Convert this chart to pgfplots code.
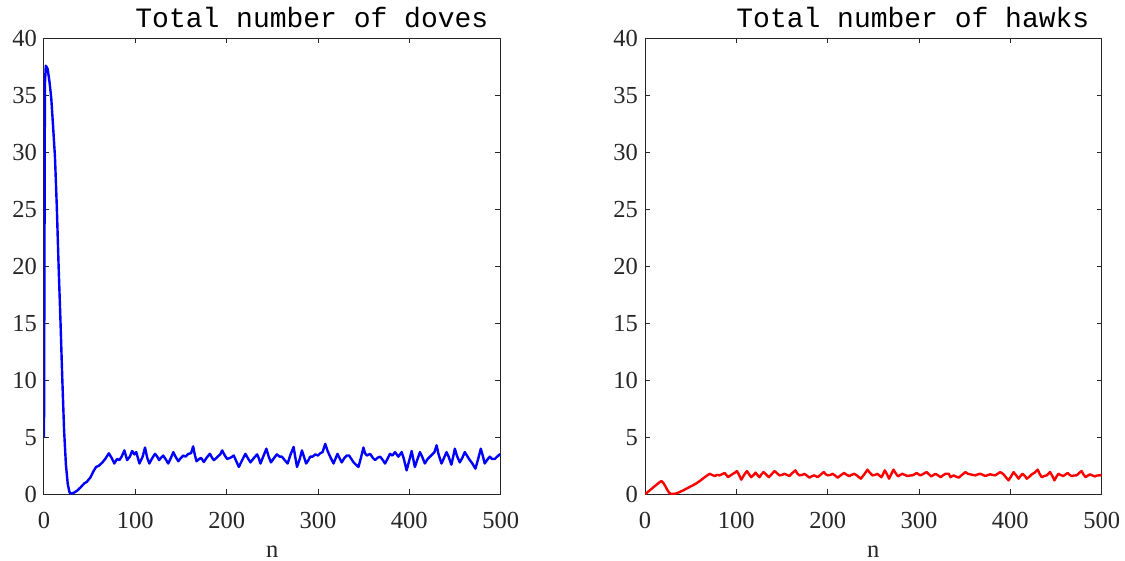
\documentclass[border=0pt]{standalone}
\usepackage{pgfplots}
\pgfplotsset{compat=1.18}
\usepackage{fontspec}
\setmainfont{Liberation Serif}
\newfontfamily\titlefont{Liberation Mono}
\definecolor{axgray}{RGB}{38,38,38}
\pgfplotsset{
  mlab/.style={
    width=228.35pt, height=228pt, scale only axis,
    xmin=0, xmax=500, ymin=0, ymax=40,
    xtick={0,100,200,300,400,500},
    ytick={0,5,10,15,20,25,30,35,40},
    tick align=inside, major tick length=2.6pt,
    axis line style={axgray, line width=0.5pt},
    every tick/.style={axgray, line width=0.5pt},
    /pgf/number format/assume math mode=true,
    tick label style={font=\fontsize{12.25}{14}\selectfont, text=axgray},
    xticklabel style={anchor=base, yshift=-17pt},
    xlabel={n},
    xlabel style={font=\fontsize{12.25}{14}\selectfont, text=axgray, at={(axis description cs:0.5,0)}, anchor=base, yshift=-31.5pt},
    every axis title shift=0pt,
    title style={font=\titlefont\fontsize{14}{16}\selectfont, at={(axis description cs:1,1)}, anchor=base east, inner sep=0pt, xshift=-6pt, yshift=5.5pt},
    clip=true,
  }
}
\begin{document}
\begin{tikzpicture}
\begin{axis}[mlab, at={(0pt,0pt)}, anchor=south west, title={Total number of doves}]
\addplot[blue, line width=1.2pt, line join=round] coordinates {
(0,5)(1,36)(2,37.6)(4,37.3)(6,36.2)(8,34.7)(10,32.2)(12,29.6)(14,25.3)(16,20)(18,15.3)(20,10.2)(22,5.6)(24,2.6)(26,0.9)(28,0.15)(30,0.05)(33,0.15)(36,0.3)(40,0.6)(44,0.95)(47,1.1)(51,1.5)(54,2.0)(57,2.4)(60,2.5)(64,2.8)(67,3.1)(71,3.6)(74,3.2)(77,2.7)(80,3.1)(82.5,3.0)(85,3.3)(88,3.85)(91,3.0)(94,3.3)(96.5,3.8)(99,3.5)(101,3.7)(104.5,2.7)(108,3.3)(110.6,4.1)(113,3.2)(115.3,2.7)(118,3.1)(121.5,3.55)(124,3.3)(126,3.0)(128,3.2)(130.5,3.4)(133,3.1)(136,2.7)(139,3.2)(141.6,3.7)(144,3.3)(147,2.9)(150,3.2)(152.5,3.4)(155,3.3)(158,3.55)(161,3.6)(163.3,4.2)(165,3.5)(167,2.9)(170,3.1)(172,3.2)(175,2.83)(178,3.2)(181.6,3.56)(184,3.2)(186,3.0)(189,3.2)(191.4,3.4)(193,3.5)(195,3.85)(198,3.4)(200.5,3.1)(204,3.2)(207.8,3.4)(210.5,2.9)(213.3,2.4)(217,3.0)(220.5,3.55)(223,3.2)(226,2.8)(230,3.2)(233.3,3.5)(235,3.2)(237,2.7)(240,3.3)(243.5,4.0)(246,3.3)(248.5,2.8)(252,3.2)(255,3.5)(258,3.3)(260.5,3.3)(263.5,3.0)(266.7,2.7)(270,3.5)(273.3,4.15)(275,3.3)(277,2.4)(280,3.1)(282.4,3.85)(285,3.2)(287,2.7)(289.5,3.0)(291.5,3.3)(294,3.3)(297,3.5)(300,3.4)(302.4,3.6)(305,3.7)(307.9,4.43)(310.5,3.8)(313.3,3.3)(317,2.7)(319,3.1)(321.3,3.55)(324,3.1)(326,2.8)(329,3.2)(331.5,3.4)(334,3.4)(336.5,3.1)(339,2.8)(341.5,2.6)(344.3,2.4)(347,3.2)(349.7,4.1)(351.5,3.6)(353.4,3.4)(357,3.55)(360,3.2)(362.5,3.0)(365,3.2)(368,3.3)(371,3.0)(373.4,2.7)(376,3.1)(378.8,3.55)(381.5,3.4)(384.3,3.7)(388,3.3)(391.6,3.7)(394,3.1)(397,2.1)(400,3.0)(402.5,3.8)(404,3.2)(406,2.4)(409,3.1)(411.6,3.7)(414,3.3)(417,2.7)(420,3.1)(422.5,3.3)(425,3.5)(427.5,3.7)(429.8,4.3)(432,3.5)(435.2,2.7)(438,3.2)(440.7,3.7)(443,3.3)(446,2.6)(448,3.3)(449.8,4.0)(452,3.4)(455.2,2.8)(458,3.2)(460.7,3.7)(463,3.4)(466.2,3.0)(469,2.7)(472.3,2.25)(475,3.0)(478.2,4.0)(480,3.5)(482.5,2.7)(485,3.0)(488,3.3)(490.5,3.1)(493.5,3.1)(496,3.3)(499,3.5)(500,3.4)
};
\end{axis}
\begin{axis}[mlab, at={(300.5pt,0pt)}, anchor=south west, title={Total number of hawks}]
\addplot[red, line width=1.2pt, line join=round] coordinates {
(0,0)(3,0.2)(6,0.4)(9,0.6)(12,0.8)(15,1.0)(18,1.17)(20,1.0)(22,0.75)(24,0.45)(26,0.18)(28,0.05)(31,0.03)(34,0.07)(38,0.2)(42,0.35)(45.5,0.5)(49,0.65)(52.7,0.8)(56,0.95)(60,1.17)(63,1.35)(65.4,1.5)(68,1.65)(71,1.8)(73.5,1.7)(76.3,1.6)(79,1.7)(81.8,1.66)(84,1.75)(87.3,1.87)(90.9,1.5)(93.5,1.65)(96.3,1.8)(98.5,1.9)(100.7,2.04)(103,1.7)(105.4,1.28)(108.5,1.7)(111.6,2.04)(114,1.75)(116.3,1.5)(119,1.7)(121,1.9)(123,1.7)(125.4,1.5)(127.5,1.75)(129.8,1.95)(132.5,1.75)(135.6,1.5)(138.5,1.75)(141.8,2.04)(144.5,1.85)(147.2,1.66)(150,1.7)(152.7,1.8)(155.5,1.7)(158,1.6)(161,1.85)(164.7,2.1)(166.5,1.85)(169,1.66)(172,1.7)(174.5,1.8)(177,1.65)(180,1.46)(183,1.6)(185.4,1.66)(189,1.5)(192,1.7)(195.6,1.95)(198,1.75)(200,1.66)(203,1.7)(205.4,1.8)(208,1.65)(210.9,1.46)(214,1.65)(218,1.87)(221,1.7)(223.6,1.6)(226,1.7)(229,1.8)(232,1.65)(236.3,1.37)(240,1.75)(243.6,2.16)(246,1.9)(249,1.66)(252,1.7)(254.5,1.8)(256.5,1.65)(258.8,1.5)(260.5,1.75)(262.5,2.1)(265,1.75)(267.2,1.37)(269.5,1.75)(272,2.16)(274.5,1.85)(277,1.57)(279.5,1.7)(281.7,1.8)(284.5,1.7)(287.2,1.6)(290,1.65)(292.6,1.66)(295,1.75)(297.4,1.87)(299.5,1.75)(301.7,1.66)(305,1.8)(308.3,1.95)(311,1.75)(313.4,1.57)(316,1.7)(318,1.8)(321,1.65)(323.6,1.5)(326,1.65)(329,1.8)(332.6,1.8)(334.4,1.5)(338,1.66)(340.5,1.55)(343.5,1.46)(347,1.7)(350.8,1.95)(353.5,1.8)(356.2,1.75)(359,1.7)(361.7,1.66)(364.5,1.75)(367.1,1.8)(370,1.7)(372.6,1.6)(375,1.68)(378,1.75)(380.5,1.7)(383.5,1.66)(386,1.8)(389,1.95)(392.6,1.75)(395,1.5)(398,1.22)(401,1.6)(403.5,1.95)(406,1.7)(409,1.37)(411,1.6)(413.3,1.8)(416,1.6)(418,1.37)(421,1.55)(423.5,1.75)(426.5,1.9)(430,2.16)(432,1.8)(434.4,1.5)(437,1.6)(439.8,1.66)(441.5,1.8)(443.5,1.95)(446,1.6)(448.2,1.22)(450.5,1.55)(452.6,1.8)(455,1.7)(458,1.6)(460.5,1.75)(462.7,1.87)(465,1.7)(467.1,1.6)(470,1.65)(472.6,1.66)(475,1.85)(478,2.04)(480,1.75)(482.4,1.5)(485,1.65)(487.1,1.75)(490,1.65)(492.5,1.57)(495,1.65)(498,1.66)(500,1.7)
};
\end{axis}
\pgfresetboundingbox
\path[use as bounding box] (-22pt,-33.35pt) rectangle (540.5pt,247.15pt);
\end{tikzpicture}
\end{document}
